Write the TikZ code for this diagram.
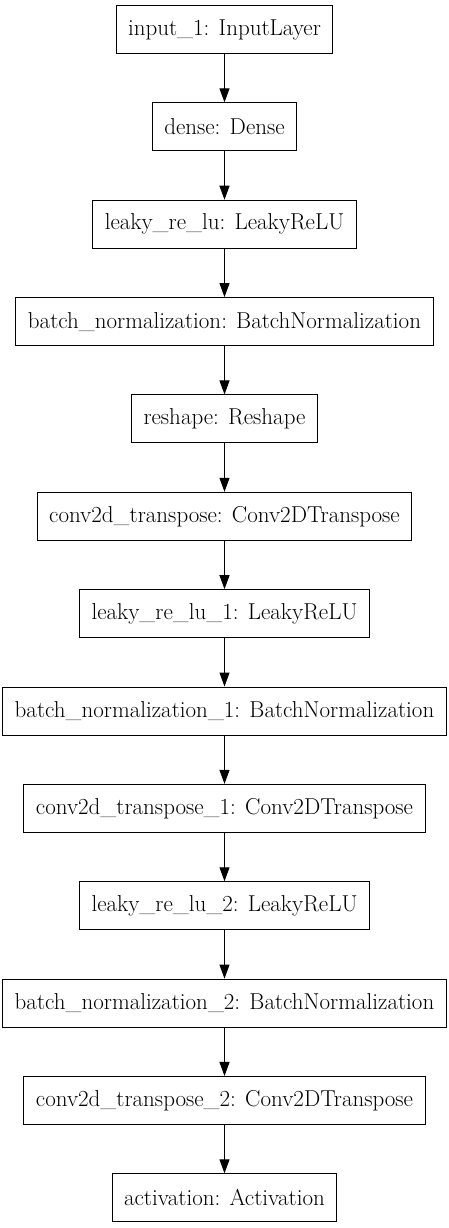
\documentclass[tikz,border=0pt]{standalone}
\usepackage{fontspec}
\usepackage{tikz}
\usetikzlibrary{arrows.meta, positioning}

\begin{document}
\begin{tikzpicture}[x=1pt, y=1pt, layer/.style={rectangle, draw, line width=1pt, minimum height=48pt, inner xsep=12pt, font=\fontsize{23}{26}\selectfont}, ->, >={Triangle[length=14pt, width=10pt]}, line width=1pt, node distance=48.36pt]
        \useasboundingbox (0,0) rectangle (449,-1228);
        \node[layer] (in1) at (224.5,-29.5) {input\_1: InputLayer};
        \node[layer, below=of in1] (dense) {dense: Dense};
        \node[layer, below=of dense] (lrelu) {leaky\_re\_lu: LeakyReLU};
        \node[layer, below=of lrelu] (bn) {batch\_normalization: BatchNormalization};
        \node[layer, below=of bn] (reshape) {reshape: Reshape};
        \node[layer, below=of reshape] (convt) {conv2d\_transpose: Conv2DTranspose};
        \node[layer, below=of convt] (lrelu1) {leaky\_re\_lu\_1: LeakyReLU};
        \node[layer, below=of lrelu1] (bn1) {batch\_normalization\_1: BatchNormalization};
        \node[layer, below=of bn1] (convt1) {conv2d\_transpose\_1: Conv2DTranspose};
        \node[layer, below=of convt1] (lrelu2) {leaky\_re\_lu\_2: LeakyReLU};
        \node[layer, below=of lrelu2] (bn2) {batch\_normalization\_2: BatchNormalization};
        \node[layer, below=of bn2] (convt2) {conv2d\_transpose\_2: Conv2DTranspose};
        \node[layer, below=of convt2] (act) {activation: Activation};
        \path (in1) edge (dense);
        \path (dense) edge (lrelu);
        \path (lrelu) edge (bn);
        \path (bn) edge (reshape);
        \path (reshape) edge (convt);
        \path (convt) edge (lrelu1);
        \path (lrelu1) edge (bn1);
        \path (bn1) edge (convt1);
        \path (convt1) edge (lrelu2);
        \path (lrelu2) edge (bn2);
        \path (bn2) edge (convt2);
        \path (convt2) edge (act);
    \end{tikzpicture}
\end{document}
